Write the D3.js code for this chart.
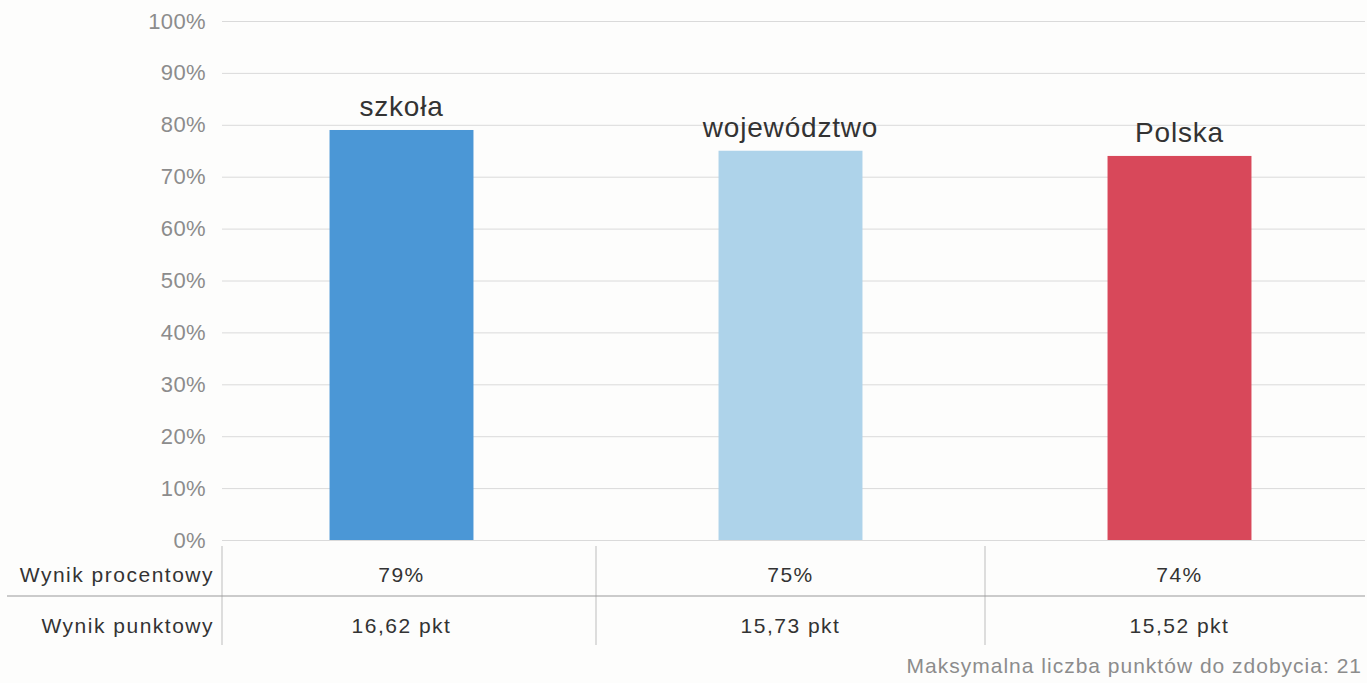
<!DOCTYPE html>
<html>
<head>
<meta charset="utf-8">
<script src="https://cdn.jsdelivr.net/npm/d3@7"></script>
<style>
  html, body { margin: 0; padding: 0; background: #fdfdfc; }
  svg { display: block; font-family: "Liberation Sans", Arial, sans-serif; }
</style>
</head>
<body>
<svg id="chart" width="1367" height="683"></svg>
<script>
// Results: school vs. voivodeship vs. country
const categories = ["szkoła", "województwo", "Polska"];
const percentValues = [79, 75, 74];
const pointLabels = ["16,62 pkt", "15,73 pkt", "15,52 pkt"];
const barColors = ["#4b97d6", "#aed3ea", "#d8485a"];
const yTicks = [0, 10, 20, 30, 40, 50, 60, 70, 80, 90, 100];
const rowLabels = ["Wynik procentowy", "Wynik punktowy"];
const footnote = "Maksymalna liczba punktów do zdobycia: 21";

const svg = d3.select("#chart");

const plotLeft = 222, plotRight = 1365;
const y = d3.scaleLinear().domain([0, 100]).range([540, 21]);
const x = d3.scaleBand().domain(categories).range([207, 1374]).paddingInner(0.63).paddingOuter(0.315);

// gridlines + tick labels
const yAxis = d3.axisLeft(y).tickValues(yTicks).tickFormat(d => d + "%")
  .tickSize(-(plotRight - plotLeft)).tickPadding(16);
const ga = svg.append("g").attr("transform", `translate(${plotLeft},0)`).call(yAxis);
ga.select(".domain").remove();
ga.selectAll(".tick line").attr("stroke", "#dadada").attr("stroke-width", 1);
ga.selectAll(".tick text").attr("fill", "#8c8c8c")
  .style("font-size", "22px").style("letter-spacing", "0.4px");

// bars
svg.append("g").selectAll("rect").data(categories).join("rect")
  .attr("x", d => x(d))
  .attr("width", x.bandwidth())
  .attr("y", (d, i) => y(percentValues[i]))
  .attr("height", (d, i) => y(0) - y(percentValues[i]))
  .attr("fill", (d, i) => barColors[i]);

// category names above bars
svg.append("g").selectAll("text").data(categories).join("text")
  .attr("x", d => x(d) + x.bandwidth() / 2)
  .attr("y", (d, i) => y(percentValues[i]) - 14)
  .attr("text-anchor", "middle")
  .attr("fill", "#333")
  .style("font-size", "28px").style("letter-spacing", "0.8px")
  .text(d => d);

// data table under the chart
const table = svg.append("g");
const colEdges = [plotLeft, (x(categories[0]) + x(categories[1]) + x.bandwidth()) / 2,
                  (x(categories[1]) + x(categories[2]) + x.bandwidth()) / 2];
colEdges.forEach(cx => {
  table.append("line").attr("x1", cx).attr("x2", cx).attr("y1", 546).attr("y2", 645)
    .attr("stroke", "#bdbdbd").attr("stroke-width", 1);
});
table.append("line").attr("x1", 7).attr("x2", 1365).attr("y1", 596).attr("y2", 596)
  .attr("stroke", "#9a9a9a").attr("stroke-width", 1.2);

const rowY = [582, 633];
const tableFont = sel => sel.attr("fill", "#333").style("font-size", "21px").style("letter-spacing", "1.5px");
rowLabels.forEach((lab, r) => {
  table.append("text").attr("x", 214).attr("y", rowY[r]).attr("text-anchor", "end")
    .call(tableFont).text(lab);
});
table.selectAll("text.pct").data(categories).join("text").attr("class", "pct")
  .attr("x", d => x(d) + x.bandwidth() / 2).attr("y", rowY[0])
  .attr("text-anchor", "middle").call(tableFont)
  .text((d, i) => percentValues[i] + "%");
table.selectAll("text.pts").data(categories).join("text").attr("class", "pts")
  .attr("x", d => x(d) + x.bandwidth() / 2).attr("y", rowY[1])
  .attr("text-anchor", "middle").call(tableFont)
  .text((d, i) => pointLabels[i]);

svg.append("text").attr("x", 1362).attr("y", 673).attr("text-anchor", "end")
  .attr("fill", "#8c8c8c").style("font-size", "21px").style("letter-spacing", "1px")
  .text(footnote);
</script>
</body>
</html>
